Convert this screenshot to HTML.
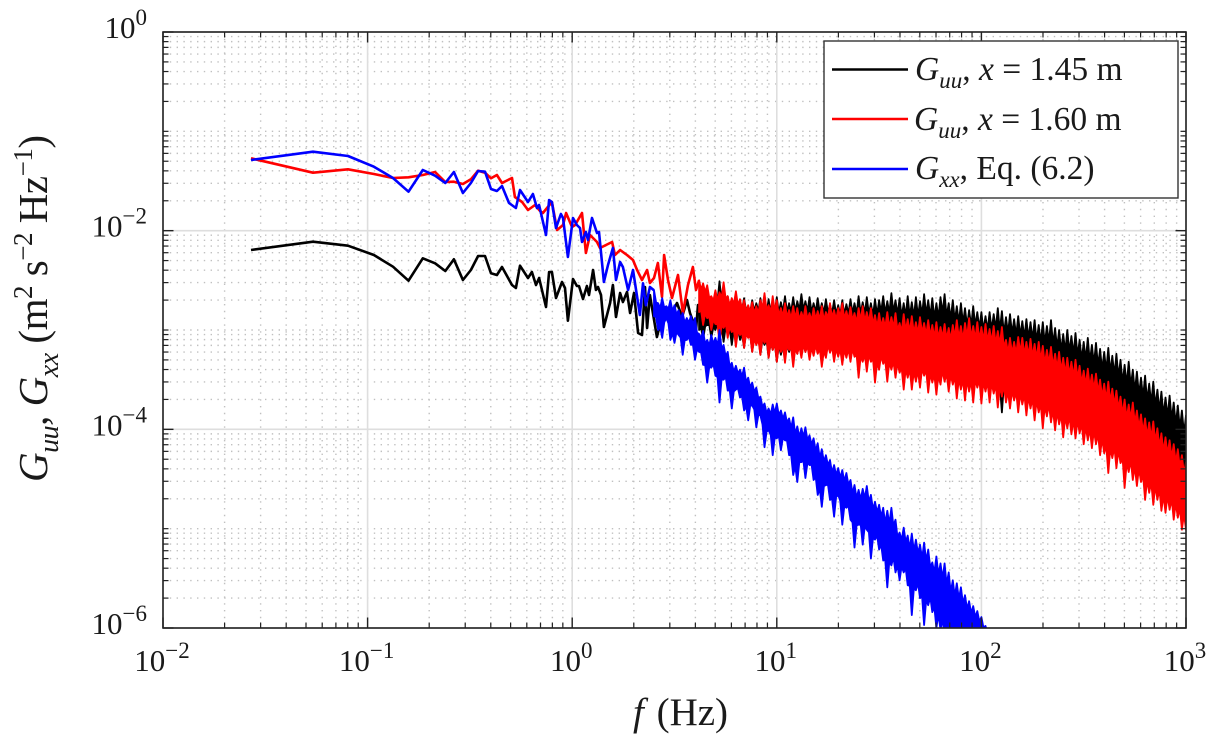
<!DOCTYPE html>
<html lang="en">
<head>
<meta charset="utf-8">
<title>Velocity spectra</title>
<style>
html,body{margin:0;padding:0;background:#fff;}
svg{display:block;font-family:"Liberation Serif",serif;fill:#1a1a1a;}
.i{font-style:italic;}
</style>
</head>
<body>
<svg id="chart" width="1209" height="736" viewBox="0 0 1209 736" xmlns="http://www.w3.org/2000/svg">
<defs><clipPath id="plot-clip"><rect x="163" y="32" width="1023" height="596"/></clipPath></defs>
<g id="grid"></g>
<g id="series" clip-path="url(#plot-clip)"></g>
<g id="axes"></g>
<text x="633" y="725" font-size="39"><tspan class="i">f</tspan><tspan dx="3"> (Hz)</tspan></text>
<text transform="translate(47,482) rotate(-90)" font-size="41" textLength="347" lengthAdjust="spacing"><tspan class="i">G</tspan><tspan class="i" font-size="28" dy="11">uu</tspan><tspan dy="-11">, </tspan><tspan class="i">G</tspan><tspan class="i" font-size="28" dy="11">xx</tspan><tspan dy="-11"> (m</tspan><tspan font-size="27" dy="-15">2</tspan><tspan dy="15"> s</tspan><tspan font-size="27" dy="-15">−2</tspan><tspan dy="15"> Hz</tspan><tspan font-size="27" dy="-15">−1</tspan><tspan dy="15">)</tspan></text>
<g>
<rect x="824" y="41" width="354" height="157" fill="#fff" stroke="#333" stroke-width="1.4"/>
<line x1="832" x2="908" y1="69.5" y2="69.5" stroke="#000" stroke-width="2.4"/>
<line x1="832" x2="908" y1="119" y2="119" stroke="#f00" stroke-width="2.4"/>
<line x1="832" x2="908" y1="169" y2="169" stroke="#00f" stroke-width="2.4"/>
<text x="915" y="80" font-size="33.5"><tspan class="i">G</tspan><tspan class="i" font-size="23" dy="8">uu</tspan><tspan dy="-8">, </tspan><tspan class="i">x</tspan> = 1.45 m</text>
<text x="914" y="130" font-size="33.5"><tspan class="i">G</tspan><tspan class="i" font-size="23" dy="8">uu</tspan><tspan dy="-8">, </tspan><tspan class="i">x</tspan> = 1.60 m</text>
<text x="915" y="179" font-size="33.5"><tspan class="i">G</tspan><tspan class="i" font-size="23" dy="8">xx</tspan><tspan dy="-8">, Eq. (6.2)</tspan></text>
</g>
</svg>
<script>
// Tick labels (log10 exponents)
const xTickExponents = [-2,-1,0,1,2,3];
const yTickExponents = [0,-2,-4,-6];
const yOddDecadeExponents = [-1,-3,-5];
const minorMultipliers = [2,3,4,5,6,7,8,9];

// Individually resolved low-frequency points: log10 f (Hz), log10 G (m^2 s^-2 Hz^-1)
const blackLineLogF = [-1.57,-1.267,-1.096,-0.969,-0.876,-0.80,-0.73,-0.67,-0.62,-0.578,-0.534,-0.495,-0.46,-0.426,-0.397,-0.368,-0.343,-0.294,-0.275,-0.255,-0.216,-0.197,-0.177,-0.162,-0.128,-0.113,-0.099,-0.079,-0.05,-0.035,-0.021,0.004,0.023,0.033,0.053,0.072,0.082,0.102,0.116,0.126,0.141,0.155,0.185,0.199,0.214,0.234,0.248,0.268,0.283,0.302,0.322,0.341,0.356,0.366,0.38,0.414,0.439,0.463,0.488,0.512,0.537,0.561,0.576,0.605,0.615];
const blackLineLogG = [-2.195,-2.111,-2.151,-2.245,-2.363,-2.504,-2.278,-2.329,-2.406,-2.288,-2.497,-2.396,-2.255,-2.255,-2.429,-2.446,-2.366,-2.547,-2.577,-2.353,-2.477,-2.416,-2.547,-2.477,-2.768,-2.416,-2.416,-2.678,-2.517,-2.577,-2.906,-2.487,-2.557,-2.557,-2.688,-2.557,-2.648,-2.396,-2.597,-2.567,-2.648,-2.97,-2.728,-2.547,-2.869,-2.628,-2.718,-2.617,-2.829,-2.628,-3.03,-3.05,-2.567,-2.98,-2.648,-3.07,-2.869,-2.799,-2.829,-2.728,-2.869,-2.698,-2.829,-3.0,-2.748];

const redLineLogF = [-1.57,-1.267,-1.096,-0.969,-0.876,-0.80,-0.73,-0.67,-0.62,-0.578,-0.534,-0.495,-0.46,-0.426,-0.397,-0.368,-0.343,-0.314,-0.294,-0.28,-0.245,-0.216,-0.182,-0.157,-0.143,-0.099,-0.074,-0.045,-0.03,-0.001,0.014,0.048,0.067,0.087,0.121,0.136,0.165,0.195,0.209,0.234,0.268,0.297,0.317,0.341,0.366,0.38,0.40,0.419,0.439,0.449,0.468,0.488,0.517,0.541,0.566,0.59,0.605];
const redLineLogG = [-1.271,-1.416,-1.382,-1.43,-1.47,-1.463,-1.44,-1.409,-1.51,-1.507,-1.53,-1.483,-1.396,-1.416,-1.473,-1.44,-1.52,-1.49,-1.47,-1.661,-1.711,-1.792,-1.742,-1.802,-1.822,-1.711,-1.993,-1.943,-1.822,-1.963,-1.943,-1.822,-2.225,-2.044,-2.114,-2.174,-2.144,-2.114,-2.245,-2.195,-2.245,-2.295,-2.396,-2.497,-2.396,-2.527,-2.477,-2.325,-2.668,-2.245,-2.497,-2.678,-2.446,-2.829,-2.547,-2.366,-2.597];

const blueLineLogF = [-1.57,-1.267,-1.096,-0.969,-0.876,-0.80,-0.73,-0.67,-0.62,-0.578,-0.534,-0.495,-0.46,-0.426,-0.397,-0.368,-0.343,-0.309,-0.275,-0.255,-0.216,-0.192,-0.172,-0.162,-0.128,-0.113,-0.099,-0.079,-0.055,-0.045,-0.021,0.004,0.023,0.038,0.048,0.067,0.077,0.097,0.121,0.131,0.155,0.175,0.199,0.214,0.234,0.248,0.273,0.297,0.331,0.346,0.36,0.38];
const blueLineLogG = [-1.289,-1.205,-1.248,-1.356,-1.47,-1.608,-1.389,-1.447,-1.52,-1.409,-1.621,-1.52,-1.399,-1.406,-1.581,-1.601,-1.55,-1.721,-1.772,-1.591,-1.711,-1.631,-1.772,-1.742,-2.044,-1.691,-1.711,-1.973,-1.832,-1.872,-2.265,-1.872,-1.943,-1.973,-2.114,-2.013,-2.094,-1.872,-2.023,-2.013,-2.517,-2.346,-2.174,-2.497,-2.315,-2.366,-2.597,-2.396,-2.849,-2.53,-2.75,-2.567];

// High-frequency noise bands: log10 f stations with upper / lower envelope of log10 G
const bandLogF = [0.62,0.64,0.66,0.68,0.70,0.72,0.74,0.76,0.78,0.80,0.82,0.84,0.86,0.88,0.90,0.92,0.94,0.96,0.98,1.00,1.02,1.04,1.06,1.08,1.10,1.12,1.14,1.16,1.18,1.20,1.22,1.24,1.26,1.28,1.30,1.32,1.34,1.36,1.38,1.40,1.42,1.44,1.46,1.48,1.50,1.52,1.54,1.56,1.58,1.60,1.62,1.64,1.66,1.68,1.70,1.72,1.74,1.76,1.78,1.80,1.82,1.84,1.86,1.88,1.90,1.92,1.94,1.96,1.98,2.00,2.02,2.04,2.06,2.08,2.10,2.12,2.14,2.16,2.18,2.20,2.22,2.24,2.26,2.28,2.30,2.32,2.34,2.36,2.38,2.40,2.42,2.44,2.46,2.48,2.50,2.52,2.54,2.56,2.58,2.60,2.62,2.64,2.66,2.68,2.70,2.72,2.74,2.76,2.78,2.80,2.82,2.84,2.86,2.88,2.90,2.92,2.94,2.96,2.98,3.00];

const blackBandTop = [-2.75,-2.70,-2.78,-2.67,-2.74,-2.51,-2.70,-2.66,-2.74,-2.67,-2.72,-2.68,-2.76,-2.70,-2.73,-2.68,-2.75,-2.69,-2.73,-2.67,-2.72,-2.66,-2.73,-2.67,-2.71,-2.64,-2.71,-2.67,-2.73,-2.68,-2.73,-2.69,-2.74,-2.70,-2.75,-2.70,-2.74,-2.69,-2.73,-2.66,-2.72,-2.67,-2.73,-2.69,-2.70,-2.66,-2.71,-2.63,-2.70,-2.68,-2.73,-2.66,-2.72,-2.67,-2.71,-2.64,-2.70,-2.68,-2.73,-2.67,-2.64,-2.73,-2.70,-2.76,-2.73,-2.78,-2.80,-2.76,-2.82,-2.82,-2.86,-2.82,-2.84,-2.78,-2.81,-2.87,-2.84,-2.89,-2.86,-2.91,-2.89,-2.92,-2.90,-2.95,-2.92,-2.96,-2.90,-2.98,-3.00,-3.04,-3.00,-3.06,-3.03,-3.10,-3.12,-3.08,-3.15,-3.13,-3.19,-3.22,-3.18,-3.26,-3.24,-3.30,-3.35,-3.32,-3.40,-3.42,-3.48,-3.46,-3.54,-3.52,-3.60,-3.62,-3.68,-3.66,-3.73,-3.76,-3.81,-3.86];
const blackBandBottom = [-3.00,-3.10,-2.95,-3.08,-3.00,-3.05,-3.12,-2.98,-3.15,-3.02,-3.10,-3.18,-3.05,-3.22,-3.10,-3.25,-3.15,-3.28,-3.20,-3.32,-3.25,-3.30,-3.22,-3.28,-3.24,-3.26,-3.22,-3.28,-3.24,-3.22,-3.30,-3.24,-3.22,-3.28,-3.25,-3.30,-3.26,-3.30,-3.25,-3.42,-3.30,-3.38,-3.30,-3.45,-3.36,-3.30,-3.46,-3.35,-3.42,-3.38,-3.52,-3.42,-3.54,-3.46,-3.52,-3.40,-3.56,-3.46,-3.58,-3.48,-3.46,-3.55,-3.48,-3.62,-3.53,-3.62,-3.55,-3.65,-3.50,-3.66,-3.55,-3.65,-3.58,-3.70,-3.83,-3.66,-3.72,-3.64,-3.76,-3.68,-3.78,-3.72,-3.84,-3.76,-3.90,-3.80,-3.85,-3.92,-3.86,-3.98,-3.90,-3.96,-4.00,-3.95,-4.05,-4.02,-4.10,-4.05,-4.15,-4.12,-4.25,-4.15,-4.25,-4.20,-4.40,-4.28,-4.35,-4.40,-4.36,-4.52,-4.46,-4.56,-4.52,-4.62,-4.64,-4.62,-4.70,-4.68,-4.80,-4.80];

const redBandTop = [-2.50,-2.53,-2.55,-2.66,-2.60,-2.62,-2.52,-2.66,-2.68,-2.61,-2.69,-2.70,-2.75,-2.72,-2.76,-2.70,-2.63,-2.75,-2.66,-2.70,-2.78,-2.73,-2.80,-2.76,-2.78,-2.82,-2.76,-2.83,-2.78,-2.81,-2.76,-2.82,-2.73,-2.80,-2.78,-2.73,-2.81,-2.77,-2.83,-2.78,-2.76,-2.82,-2.78,-2.85,-2.83,-2.88,-2.82,-2.87,-2.83,-2.93,-2.84,-2.89,-2.86,-2.92,-2.87,-2.93,-2.90,-2.95,-2.92,-2.97,-2.94,-2.98,-2.95,-2.90,-2.96,-2.93,-2.88,-2.96,-2.92,-2.97,-2.94,-2.99,-2.96,-3.01,-2.97,-3.10,-3.08,-3.12,-3.07,-3.08,-3.12,-3.09,-3.14,-3.12,-3.16,-3.20,-3.17,-3.24,-3.22,-3.28,-3.28,-3.32,-3.30,-3.36,-3.41,-3.39,-3.45,-3.44,-3.50,-3.54,-3.52,-3.59,-3.61,-3.67,-3.70,-3.75,-3.73,-3.81,-3.85,-3.89,-3.93,-3.92,-3.99,-4.04,-4.08,-4.11,-4.15,-4.20,-4.26,-4.33];
const redBandBottom = [-2.82,-2.95,-2.88,-3.00,-2.94,-3.13,-2.98,-3.08,-3.02,-3.17,-3.05,-3.18,-3.08,-3.22,-3.15,-3.25,-3.13,-3.28,-3.20,-3.32,-3.22,-3.33,-3.20,-3.37,-3.24,-3.28,-3.22,-3.30,-3.26,-3.24,-3.37,-3.28,-3.23,-3.32,-3.27,-3.35,-3.28,-3.32,-3.27,-3.48,-3.32,-3.42,-3.32,-3.53,-3.40,-3.34,-3.52,-3.40,-3.48,-3.43,-3.60,-3.48,-3.60,-3.52,-3.58,-3.46,-3.63,-3.53,-3.65,-3.55,-3.52,-3.62,-3.55,-3.69,-3.60,-3.71,-3.62,-3.73,-3.58,-3.74,-3.62,-3.73,-3.64,-3.78,-3.67,-3.73,-3.79,-3.71,-3.83,-3.75,-3.86,-3.79,-3.91,-3.83,-3.99,-3.87,-3.93,-4.01,-3.95,-4.08,-3.99,-4.05,-4.09,-4.04,-4.15,-4.11,-4.19,-4.15,-4.26,-4.24,-4.44,-4.29,-4.39,-4.34,-4.59,-4.43,-4.51,-4.57,-4.53,-4.71,-4.64,-4.76,-4.71,-4.82,-4.84,-4.81,-4.91,-4.89,-5.01,-5.01];

const blueBandLogF = [0.40,0.42,0.44,0.46,0.48,0.50,0.52,0.54,0.56,0.58,0.60,0.62,0.64,0.66,0.68,0.70,0.72,0.74,0.76,0.78,0.80,0.82,0.84,0.86,0.88,0.90,0.92,0.94,0.96,0.98,1.00,1.02,1.04,1.06,1.08,1.10,1.12,1.14,1.16,1.18,1.20,1.22,1.24,1.26,1.28,1.30,1.32,1.34,1.36,1.38,1.40,1.42,1.44,1.46,1.48,1.50,1.52,1.54,1.56,1.58,1.60,1.62,1.64,1.66,1.68,1.70,1.72,1.74,1.76,1.78,1.80,1.82,1.84,1.86,1.88,1.90,1.92,1.94,1.96,1.98,2.00,2.02,2.04];
const blueBandTop = [-2.60,-2.73,-2.68,-2.76,-2.70,-2.75,-2.80,-2.83,-2.88,-2.86,-2.88,-3.04,-3.01,-3.10,-3.05,-3.08,-3.00,-3.15,-3.22,-3.33,-3.36,-3.40,-3.38,-3.48,-3.53,-3.58,-3.67,-3.74,-3.79,-3.75,-3.74,-3.81,-3.83,-3.89,-3.88,-3.97,-3.99,-3.98,-4.06,-4.09,-4.14,-4.20,-4.26,-4.31,-4.36,-4.39,-4.41,-4.44,-4.51,-4.56,-4.61,-4.60,-4.57,-4.66,-4.73,-4.76,-4.79,-4.82,-4.79,-4.91,-5.04,-4.99,-5.07,-5.05,-5.11,-5.16,-5.14,-5.21,-5.34,-5.28,-5.35,-5.35,-5.44,-5.52,-5.55,-5.59,-5.67,-5.73,-5.78,-5.83,-5.89,-5.98,-6.06];
const blueBandBottom = [-2.86,-3.00,-3.08,-2.88,-3.10,-3.13,-3.05,-3.25,-3.10,-3.15,-3.30,-3.22,-3.35,-3.53,-3.38,-3.46,-3.73,-3.50,-3.61,-3.79,-3.60,-3.68,-3.81,-3.91,-3.76,-3.98,-3.86,-4.18,-4.01,-4.26,-4.09,-4.21,-4.11,-4.26,-4.46,-4.53,-4.33,-4.49,-4.36,-4.51,-4.66,-4.78,-4.56,-4.71,-4.88,-4.66,-4.96,-4.79,-4.91,-5.19,-4.96,-5.16,-5.01,-5.30,-5.11,-5.21,-5.32,-5.59,-5.37,-5.44,-5.52,-5.44,-5.57,-5.87,-5.62,-5.70,-5.97,-5.77,-5.84,-6.00,-6.02,-6.1,-6.2,-6.2,-6.2,-6.2,-6.2,-6.2,-6.2,-6.2,-6.2,-6.2,-6.1];

const SVG_NS = 'http://www.w3.org/2000/svg';
const plotLeft = 163, plotRight = 1186, plotTop = 32, plotBottom = 628;
const xMinExp = -2, xMaxExp = 3, yMinExp = -6, yMaxExp = 0;
const spikeNotch = 0.22;

function xScale(logF) { return plotLeft + (logF - xMinExp) / (xMaxExp - xMinExp) * (plotRight - plotLeft); }
function yScale(logG) { return plotBottom - (logG - yMinExp) / (yMaxExp - yMinExp) * (plotBottom - plotTop); }

function make(tag, attrs, parent) {
  const node = document.createElementNS(SVG_NS, tag);
  for (const k in attrs) node.setAttribute(k, attrs[k]);
  parent.appendChild(node);
  return node;
}

const gridLayer = document.getElementById('grid');
const axesLayer = document.getElementById('axes');
const seriesLayer = document.getElementById('series');
const dotStyle = {stroke:'#c0c0c0', 'stroke-width':1.4, 'stroke-dasharray':'1.4 5.4'};

// Minor grid + minor ticks, vertical
for (let d = xMinExp; d < xMaxExp; d++) {
  for (const m of minorMultipliers) {
    const x = xScale(d + Math.log10(m));
    const g = make('line', Object.assign({x1:x, x2:x, y1:plotTop, y2:plotBottom}, dotStyle), gridLayer);
    
    
    const t1 = make('line', {x1:x, x2:x, y1:plotBottom, y2:plotBottom-5.5, stroke:'#222', 'stroke-width':1.2}, axesLayer);
    
    
    const t2 = make('line', {x1:x, x2:x, y1:plotTop, y2:plotTop+5.5, stroke:'#222', 'stroke-width':1.2}, axesLayer);
    
    
  }
}
// Minor grid + minor ticks, horizontal
for (let d = yMinExp; d < yMaxExp; d++) {
  for (const m of minorMultipliers) {
    const y = yScale(d + Math.log10(m));
    const g = make('line', Object.assign({x1:plotLeft, x2:plotRight, y1:y, y2:y}, dotStyle), gridLayer);
    
    
    const t1 = make('line', {x1:plotLeft, x2:plotLeft+5.5, y1:y, y2:y, stroke:'#222', 'stroke-width':1.2}, axesLayer);
    
    
    const t2 = make('line', {x1:plotRight, x2:plotRight-5.5, y1:y, y2:y, stroke:'#222', 'stroke-width':1.2}, axesLayer);
    
    
  }
}
// Odd decades on the y axis are unlabelled and dotted
for (const e of yOddDecadeExponents) {
  const y = yScale(e);
  const g = make('line', Object.assign({x1:plotLeft, x2:plotRight, y1:y, y2:y}, dotStyle), gridLayer);
  
  
  const t1 = make('line', {x1:plotLeft, x2:plotLeft+5.5, y1:y, y2:y, stroke:'#222', 'stroke-width':1.2}, axesLayer);
  
  
  const t2 = make('line', {x1:plotRight, x2:plotRight-5.5, y1:y, y2:y, stroke:'#222', 'stroke-width':1.2}, axesLayer);
  
  
}
// Major grid + ticks, vertical
for (const e of xTickExponents) {
  const x = xScale(e);
  const g = make('line', {x1:x, x2:x, y1:plotTop, y2:plotBottom, stroke:'#dedede', 'stroke-width':1.6}, gridLayer);
  
  
  const t1 = make('line', {x1:x, x2:x, y1:plotBottom, y2:plotBottom-10.5, stroke:'#222', 'stroke-width':1.4}, axesLayer);
  
  
  const t2 = make('line', {x1:x, x2:x, y1:plotTop, y2:plotTop+10.5, stroke:'#222', 'stroke-width':1.4}, axesLayer);
  
  
  const label = make('text', {x:x-1, y:671, 'font-size':31, 'text-anchor':'middle'}, axesLayer);
  
  
  const base = make('tspan', {}, label);
  base.textContent = '10';
  const sup = make('tspan', {'font-size':23, dy:-13}, label);
  sup.textContent = String(e).replace('-', '\u2212');
}
// Major grid + ticks, horizontal
for (const e of yTickExponents) {
  const y = yScale(e);
  const g = make('line', {x1:plotLeft, x2:plotRight, y1:y, y2:y, stroke:'#dedede', 'stroke-width':1.6}, gridLayer);
  
  
  const t1 = make('line', {x1:plotLeft, x2:plotLeft+10.5, y1:y, y2:y, stroke:'#222', 'stroke-width':1.4}, axesLayer);
  
  
  const t2 = make('line', {x1:plotRight, x2:plotRight-10.5, y1:y, y2:y, stroke:'#222', 'stroke-width':1.4}, axesLayer);
  
  
  const label = make('text', {x:147, y:y+6, 'font-size':31, 'text-anchor':'end'}, axesLayer);
  
  
  const base = make('tspan', {}, label);
  base.textContent = '10';
  const sup = make('tspan', {'font-size':23, dy:-13}, label);
  sup.textContent = String(e).replace('-', '\u2212');
}
const frame = make('rect', {x:plotLeft, y:plotTop, width:plotRight-plotLeft, height:plotBottom-plotTop, fill:'none', stroke:'#222', 'stroke-width':1.6}, axesLayer);



function pt(logF, logG) { return xScale(logF).toFixed(1) + ' ' + yScale(logG).toFixed(1); }
function linePath(logF, logG) {
  return logF.map((f, i) => (i ? 'L' : 'M') + pt(f, logG[i])).join('');
}
// Outline of a noise band: each station is a spike tip, with a notch between stations
function bandPath(logF, top, bottom) {
  const n = logF.length;
  let d = 'M' + pt(logF[0], top[0]);
  for (let i = 1; i < n; i++) {
    const w = (top[i-1] - bottom[i-1] + top[i] - bottom[i]) / 2;
    d += 'L' + pt((logF[i-1] + logF[i]) / 2, (top[i-1] + top[i]) / 2 - spikeNotch * w);
    d += 'L' + pt(logF[i], top[i]);
  }
  d += 'L' + pt(logF[n-1], bottom[n-1]);
  for (let i = n - 2; i >= 0; i--) {
    const w = (top[i+1] - bottom[i+1] + top[i] - bottom[i]) / 2;
    d += 'L' + pt((logF[i+1] + logF[i]) / 2, (bottom[i+1] + bottom[i]) / 2 + spikeNotch * w);
    d += 'L' + pt(logF[i], bottom[i]);
  }
  return d + 'Z';
}

const blackLine = make('path', {d:linePath(blackLineLogF.concat(bandLogF[0]), blackLineLogG.concat(blackBandTop[0])), fill:'none', stroke:'#000', 'stroke-width':2.6, 'stroke-linejoin':'round'}, seriesLayer);


const blackBand = make('path', {d:bandPath(bandLogF, blackBandTop, blackBandBottom), fill:'#000', stroke:'#000', 'stroke-width':1.8, 'stroke-linejoin':'round'}, seriesLayer);


const redLine = make('path', {d:linePath(redLineLogF.concat(bandLogF[0]), redLineLogG.concat(redBandTop[0])), fill:'none', stroke:'#f00', 'stroke-width':2.6, 'stroke-linejoin':'round'}, seriesLayer);


const redBand = make('path', {d:bandPath(bandLogF, redBandTop, redBandBottom), fill:'#f00', stroke:'#f00', 'stroke-width':1.8, 'stroke-linejoin':'round'}, seriesLayer);


const blueLine = make('path', {d:linePath(blueLineLogF.concat(blueBandLogF[0]), blueLineLogG.concat(blueBandTop[0])), fill:'none', stroke:'#00f', 'stroke-width':2.6, 'stroke-linejoin':'round'}, seriesLayer);


const blueBand = make('path', {d:bandPath(blueBandLogF, blueBandTop, blueBandBottom), fill:'#00f', stroke:'#00f', 'stroke-width':1.8, 'stroke-linejoin':'round'}, seriesLayer);


</script>
</body>
</html>
